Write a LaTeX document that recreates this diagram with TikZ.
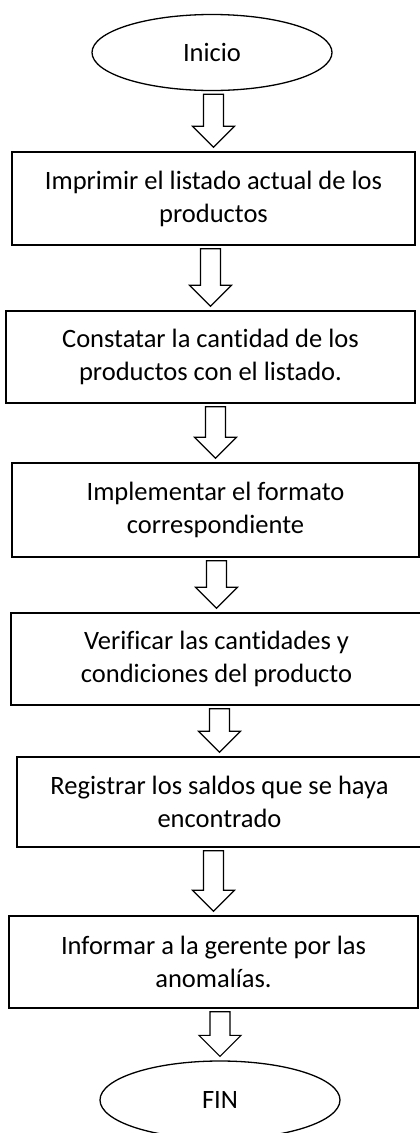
\documentclass[tikz,border=0pt]{standalone}
\usepackage{fontspec}
\setmainfont{Carlito}[Ligatures=NoCommon]
\usetikzlibrary{shapes.geometric,calc}

\newcommand{\hollowdown}[2]{\draw[hollow] let \p1=(#1.south), \p2=(#2.north) in (\x2-10pt,\y1-3pt) -- (\x2-10pt,\y2+25pt) -- (\x2-21pt,\y2+25pt) -- (\x2,\y2+4pt) -- (\x2+21pt,\y2+25pt) -- (\x2+10pt,\y2+25pt) -- (\x2+10pt,\y1-3pt) -- cycle;}

\begin{document}
\begin{tikzpicture}[x=1pt, y=1pt, node distance=150pt, font=\fontsize{26.5}{33}\selectfont, block/.style={rectangle, draw, line width=1.6pt, minimum width=407pt, minimum height=92pt, align=center, inner sep=0pt}, terminal/.style={ellipse, draw, line width=1.3pt, minimum width=240pt, minimum height=76pt, inner sep=0pt}, hollow/.style={draw, line width=1.2pt, fill=white, line join=miter}]

  \useasboundingbox (0,0) rectangle (420,-1133);

  \node[terminal] (inicio) at (212,-52.5) {Inicio};
  \node[block, below of=inicio, node distance=146pt, xshift=1.5pt, minimum width=403pt, minimum height=93pt] (imprimir) {Imprimir el listado actual de los\\productos};
  \node[block, below of=imprimir, node distance=158.5pt, xshift=-3pt, minimum width=409pt] (constatar) {Constatar la cantidad de los\\productos con el listado.};
  \node[block, below of=constatar, node distance=153pt, xshift=5pt, minimum height=94pt] (implementar) {Implementar el formato\\correspondiente};
  \node[block, below of=implementar, node distance=149pt, xshift=1pt, minimum width=411pt] (verificar) {Verificar las cantidades y\\condiciones del producto};
  \node[block, below of=verificar, node distance=143pt, xshift=3pt, minimum width=405pt, minimum height=90pt] (registrar) {Registrar los saldos que se haya\\encontrado};
  \node[block, below of=registrar, node distance=160pt, xshift=-6pt, minimum width=409pt] (informar) {Informar a la gerente por las\\anomalías.};
  \node[terminal, below of=informar, node distance=138pt, xshift=6.5pt, minimum height=78pt] (fin) {FIN};

  \hollowdown{inicio}{imprimir}
  \hollowdown{imprimir}{constatar}
  \hollowdown{constatar}{implementar}
  \hollowdown{implementar}{verificar}
  \hollowdown{verificar}{registrar}
  \hollowdown{registrar}{informar}
  \hollowdown{informar}{fin}
\end{tikzpicture}
\end{document}
